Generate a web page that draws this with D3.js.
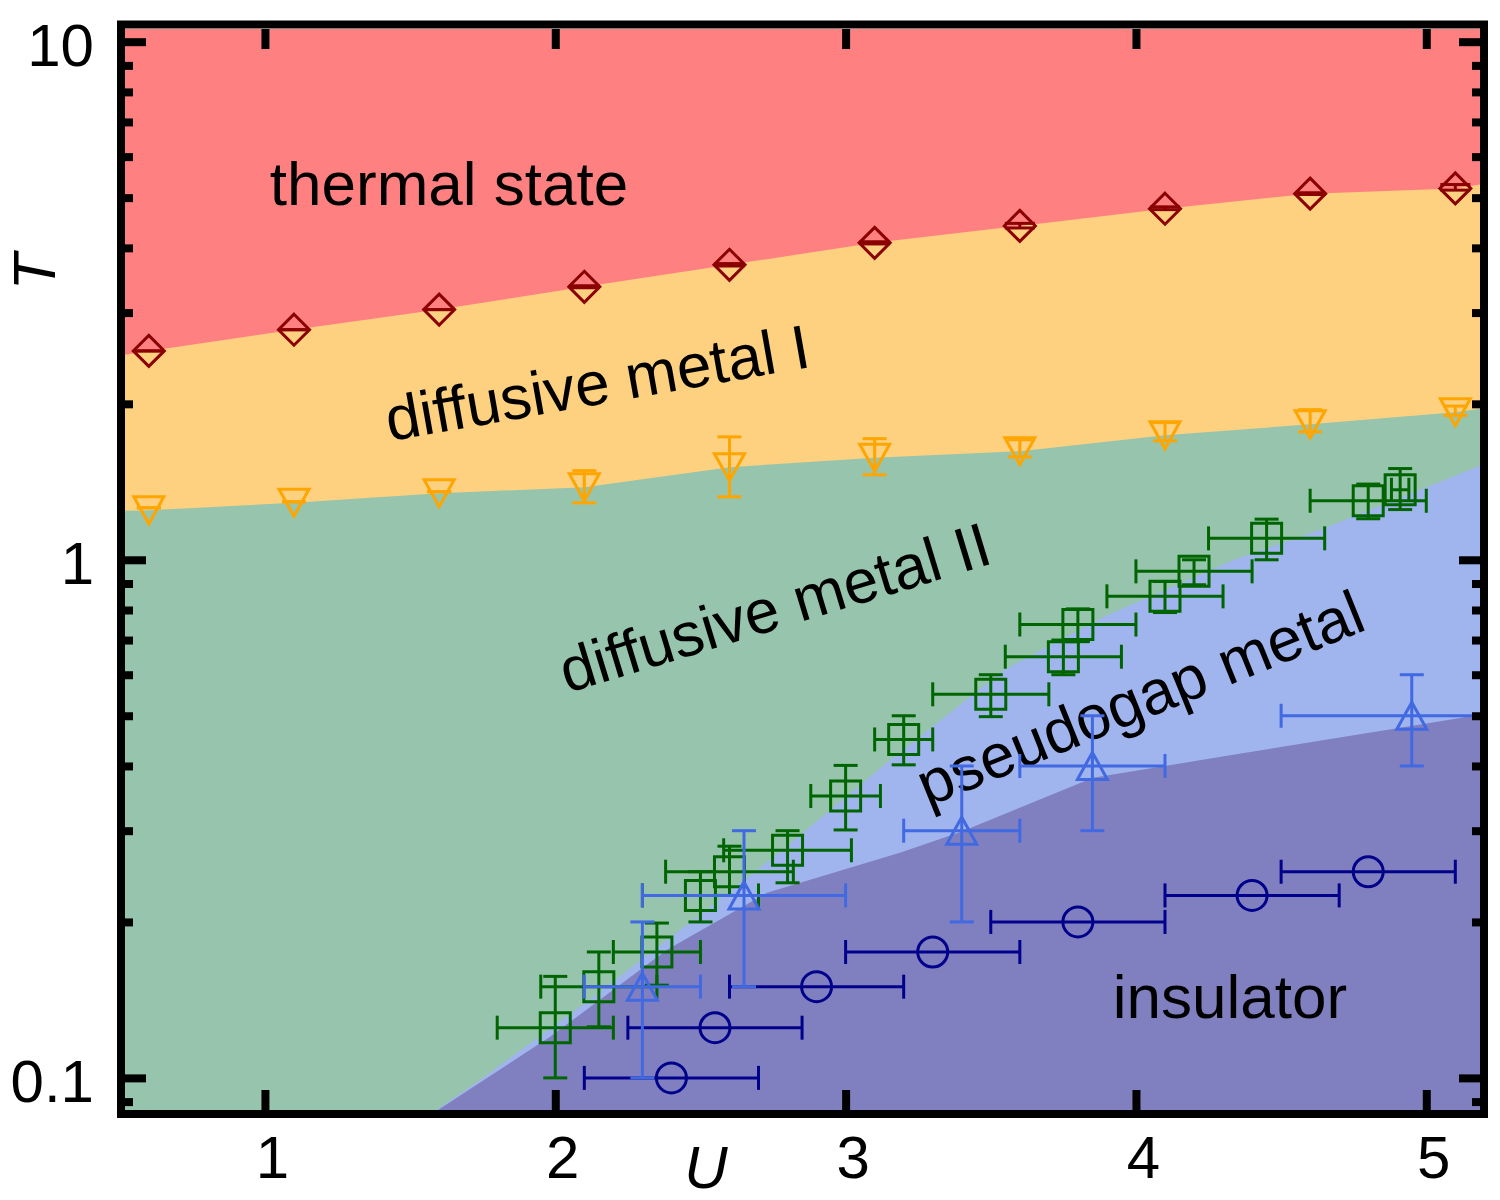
<!DOCTYPE html>
<html>
<head>
<meta charset="utf-8">
<script src="https://cdn.jsdelivr.net/npm/d3@7"></script>
<style>
  body { margin: 0; background: #fff; }
  svg text { font-family: "Liberation Sans", Arial, Helvetica, sans-serif; fill: #000; }
</style>
</head>
<body>
<div id="chart"></div>
<script>
/* ===== DATA ===== */

// U values shared by the two upper crossovers
const uGrid = [0.6, 1.1, 1.6, 2.1, 2.6, 3.1, 3.6, 4.1, 4.6, 5.1];

// thermal state / diffusive metal I (diamonds)
const thermalT  = [2.53, 2.78, 3.04, 3.365, 3.71, 4.09, 4.41, 4.76, 5.09, 5.21];
const thermalLo = [2.53, 2.78, 3.04, 3.35, 3.69, 4.07, 4.37, 4.74, 5.07, 5.17];
const thermalHi = [2.53, 2.78, 3.04, 3.38, 3.73, 4.11, 4.46, 4.80, 5.11, 5.30];

// diffusive metal I / II (down triangles)
const metalT  = [1.246, 1.289, 1.344, 1.38, 1.509, 1.574, 1.62, 1.739, 1.826, 1.927];
const metalLo = [1.26, 1.294, 1.353, 1.288, 1.323, 1.459, 1.58, 1.697, 1.766, 1.90];
const metalHi = [1.26, 1.294, 1.353, 1.486, 1.727, 1.713, 1.705, 1.84, 1.949, 1.98];

// pseudogap onset (squares)
const pgU    = [2.0, 2.15, 2.35, 2.5, 2.6, 2.8, 3.0, 3.2, 3.5, 3.75, 3.8, 4.1, 4.2, 4.45, 4.8, 4.91];
const pgT    = [0.125, 0.15, 0.175, 0.225, 0.25, 0.275, 0.35, 0.45, 0.55, 0.65, 0.75, 0.85, 0.95, 1.1, 1.3, 1.365];
const pgUerr = [0.2, 0.2, 0.15, 0.2, 0.22, 0.22, 0.12, 0.1, 0.2, 0.2, 0.2, 0.2, 0.2, 0.2, 0.2, 0.03];
const pgTlo  = [0.1, 0.1255, 0.151, 0.2, 0.225, 0.238, 0.301, 0.402, 0.498, 0.6, 0.695, 0.791, 0.895, 1.0, 1.2, 1.25];
const pgThi  = [0.157, 0.175, 0.199, 0.25, 0.28, 0.3, 0.401, 0.5, 0.6, 0.7, 0.804, 0.908, 1.0, 1.198, 1.4, 1.5];

// pseudogap metal / insulator (up triangles)
const ptU   = [2.3, 2.65, 3.4, 3.85, 4.95];
const ptT   = [0.15, 0.225, 0.3, 0.4, 0.5];
const ptUlo = [2.1, 2.3, 3.2, 3.6, 4.5];
const ptUhi = [2.5, 3.0, 3.6, 4.1, 5.4];
const ptTlo = [0.1, 0.15, 0.2, 0.3, 0.4];
const ptThi = [0.2, 0.3, 0.4, 0.5, 0.6];

// insulator (circles, U error only)
const insU    = [2.4, 2.55, 2.9, 3.3, 3.8, 4.4, 4.8];
const insT    = [0.1, 0.125, 0.15, 0.175, 0.2, 0.225, 0.25];
const insUerr = [0.3, 0.3, 0.3, 0.3, 0.3, 0.3, 0.3];

// region boundaries
const uEdge        = [0.518, 5.185];
const thermalEdgeT = [2.488, 5.30];
const metalEdgeT   = [1.243, 1.957];
const pgEdgeU = [1.59, 1.741, 2.085, 2.43, 2.774, 3.143, 3.546, 3.89, 4.338, 4.634, 5.185];
const pgEdgeT = [0.0867, 0.0991, 0.137, 0.193, 0.273, 0.406, 0.613, 0.776, 1.0, 1.143, 1.518];
const insEdgeU = [1.596, 1.982, 2.385, 2.729, 3.187, 3.398, 3.852, 4.335, 4.948, 5.185];
const insEdgeT = [0.0867, 0.12, 0.1767, 0.2276, 0.272, 0.2985, 0.3796, 0.4203, 0.478, 0.5022];

// ticks
const xTicks = [1, 2, 3, 4, 5];
const yMajor = [0.1, 1, 10];
const yMinor = [0.09, 0.2, 0.3, 0.4, 0.5, 0.6, 0.7, 0.8, 0.9, 2, 3, 4, 5, 6, 7, 8, 9];

/* ===== SETUP ===== */
const W = 1500, H = 1200;
const plot = { left: 125, right: 1480, top: 29, bottom: 1110 };

const svg = d3.select('#chart').append('svg')
    .attr('width', W)
    .attr('height', H);

const x = d3.scaleLinear().domain(uEdge).range([plot.left, plot.right]);
const y = d3.scaleLog().domain([0.0867, 10.58]).range([plot.bottom, plot.top]);

const zip = (a, b) => a.map((v, i) => [v, b[i]]);

svg.append('defs').append('clipPath')
    .attr('id', 'plotClip')
    .append('rect')
    .attr('x', plot.left).attr('y', plot.top)
    .attr('width', plot.right - plot.left)
    .attr('height', plot.bottom - plot.top);

const g = svg.append('g').attr('clip-path', 'url(#plotClip)');

/* ===== REGIONS ===== */
const area = d3.area()
    .x(d => x(d[0]))
    .y0(plot.bottom)
    .y1(d => y(d[1]));

g.append('rect')
    .attr('x', plot.left).attr('y', plot.top)
    .attr('width', plot.right - plot.left)
    .attr('height', plot.bottom - plot.top)
    .attr('fill', '#ff8080');

const thermalLine = [[uEdge[0], thermalEdgeT[0]], ...zip(uGrid, thermalT), [uEdge[1], thermalEdgeT[1]]];
const metalLine = [[uEdge[0], metalEdgeT[0]], ...zip(uGrid, metalT), [uEdge[1], metalEdgeT[1]]];

g.append('path').attr('d', area(thermalLine)).attr('fill', '#fed180');
g.append('path').attr('d', area(metalLine)).attr('fill', '#97c4ac');
g.append('path').attr('d', area(zip(pgEdgeU, pgEdgeT))).attr('fill', '#a0b4ee');
g.append('path').attr('d', area(zip(insEdgeU, insEdgeT))).attr('fill', '#8080c0');

/* ===== REGION LABELS ===== */
const labels = svg.append('g').attr('font-size', 62);

labels.append('text').attr('x', 449).attr('y', 205)
    .attr('text-anchor', 'middle').text('thermal state');
labels.append('text').attr('transform', 'translate(601,404) rotate(-10)')
    .attr('text-anchor', 'middle').text('diffusive metal I');
labels.append('text').attr('transform', 'translate(781,628) rotate(-17)')
    .attr('text-anchor', 'middle').text('diffusive metal II');
labels.append('text').attr('transform', 'translate(1148,718) rotate(-22)')
    .attr('text-anchor', 'middle').text('pseudogap metal');
labels.append('text').attr('x', 1230).attr('y', 1018)
    .attr('text-anchor', 'middle').text('insulator');

/* ===== DATA SERIES ===== */
function drawErrorBars(layer, pts, color, cap) {
    const bars = layer.append('g')
        .attr('stroke', color)
        .attr('stroke-width', 3)
        .attr('fill', 'none');

    pts.forEach(d => {
        const cx = x(d.u), cy = y(d.t);
        if (d.tLo != null) {
            const y0 = y(d.tLo), y1 = y(d.tHi);
            bars.append('line').attr('x1', cx).attr('x2', cx).attr('y1', y0).attr('y2', y1);
            bars.append('line').attr('x1', cx - cap).attr('x2', cx + cap).attr('y1', y0).attr('y2', y0);
            bars.append('line').attr('x1', cx - cap).attr('x2', cx + cap).attr('y1', y1).attr('y2', y1);
        }
        if (d.uLo != null) {
            const x0 = x(d.uLo), x1 = x(d.uHi);
            bars.append('line').attr('x1', x0).attr('x2', x1).attr('y1', cy).attr('y2', cy);
            bars.append('line').attr('x1', x0).attr('x2', x0).attr('y1', cy - cap).attr('y2', cy + cap);
            bars.append('line').attr('x1', x1).attr('x2', x1).attr('y1', cy - cap).attr('y2', cy + cap);
        }
    });
}

function drawMarkers(layer, pts, color, shape) {
    layer.append('g')
        .selectAll('path')
        .data(pts)
        .enter()
        .append('path')
        .attr('d', shape)
        .attr('transform', d => `translate(${x(d.u)},${y(d.t)})`)
        .attr('fill', 'none')
        .attr('stroke', color)
        .attr('stroke-width', 3);
}

const diamond  = 'M0,-15.5L15.5,0L0,15.5L-15.5,0Z';
const triDown  = 'M-15,-13.5L15,-13.5L0,13.5Z';
const triUp    = 'M0,-13.5L15,13.5L-15,13.5Z';
const square   = 'M-15,-15H15V15H-15Z';
const circle   = d3.symbol().type(d3.symbolCircle).size(Math.PI * 15 * 15)();

const thermalPts = uGrid.map((u, i) => ({ u, t: thermalT[i], tLo: thermalLo[i], tHi: thermalHi[i] }));
const metalPts = uGrid.map((u, i) => ({ u, t: metalT[i], tLo: metalLo[i], tHi: metalHi[i] }));
const pgPts = pgU.map((u, i) => ({
    u, t: pgT[i], uLo: u - pgUerr[i], uHi: u + pgUerr[i], tLo: pgTlo[i], tHi: pgThi[i]
}));
const ptPts = ptU.map((u, i) => ({
    u, t: ptT[i], uLo: ptUlo[i], uHi: ptUhi[i], tLo: ptTlo[i], tHi: ptThi[i]
}));
const insPts = insU.map((u, i) => ({ u, t: insT[i], uLo: u - insUerr[i], uHi: u + insUerr[i] }));

const series = svg.append('g').attr('clip-path', 'url(#plotClip)');

drawErrorBars(series, thermalPts, '#8b0000', 15);
drawMarkers(series, thermalPts, '#8b0000', diamond);

drawErrorBars(series, metalPts, '#ffa500', 12);
drawMarkers(series, metalPts, '#ffa500', triDown);

drawErrorBars(series, insPts, '#00008b', 12);
drawMarkers(series, insPts, '#00008b', circle);

drawErrorBars(series, pgPts, '#006400', 12);
drawMarkers(series, pgPts, '#006400', square);

drawErrorBars(series, ptPts, '#4169e1', 12);
drawMarkers(series, ptPts, '#4169e1', triUp);

/* ===== AXES ===== */
function styleAxis(sel) {
    sel.select('.domain').remove();
    sel.selectAll('.tick line')
        .attr('stroke', '#000')
        .attr('stroke-width', 8);
    sel.selectAll('.tick text')
        .attr('font-size', 60)
        .attr('fill', '#000')
        .attr('font-family', '"Liberation Sans", Arial, Helvetica, sans-serif');
}

// left
svg.append('g').attr('transform', `translate(${plot.left},0)`)
    .call(d3.axisLeft(y).tickValues(yMajor).tickSize(-21).tickPadding(31)
        .tickFormat(d => d < 1 ? '0.1' : String(d)))
    .call(styleAxis)
    .selectAll('.tick text').attr('dy', '0.39em');
svg.append('g').attr('transform', `translate(${plot.left},0)`)
    .call(d3.axisLeft(y).tickValues(yMinor).tickSize(-8).tickFormat(''))
    .call(styleAxis);

// right
svg.append('g').attr('transform', `translate(${plot.right},0)`)
    .call(d3.axisRight(y).tickValues(yMajor).tickSize(-21).tickFormat(''))
    .call(styleAxis);
svg.append('g').attr('transform', `translate(${plot.right},0)`)
    .call(d3.axisRight(y).tickValues(yMinor).tickSize(-8).tickFormat(''))
    .call(styleAxis);

// bottom
svg.append('g').attr('transform', `translate(0,${plot.bottom})`)
    .call(d3.axisBottom(x).tickValues(xTicks).tickSize(-20).tickPadding(25).tickFormat(d => d))
    .call(styleAxis)
    .selectAll('.tick text').attr('dx', 7);

// top
svg.append('g').attr('transform', `translate(0,${plot.top})`)
    .call(d3.axisTop(x).tickValues(xTicks).tickSize(-20).tickFormat(''))
    .call(styleAxis);

// frame
svg.append('rect')
    .attr('x', plot.left - 4).attr('y', plot.top - 4.5)
    .attr('width', plot.right - plot.left + 8)
    .attr('height', plot.bottom - plot.top + 8.5)
    .attr('fill', 'none')
    .attr('stroke', '#000')
    .attr('stroke-width', 8);

// axis titles
svg.append('text')
    .attr('transform', 'translate(55,272) rotate(-90)')
    .attr('text-anchor', 'middle')
    .attr('font-size', 60)
    .attr('font-style', 'italic')
    .text('T');
svg.append('text')
    .attr('x', 706).attr('y', 1188)
    .attr('text-anchor', 'middle')
    .attr('font-size', 60)
    .attr('font-style', 'italic')
    .text('U');
</script>
</body>
</html>
